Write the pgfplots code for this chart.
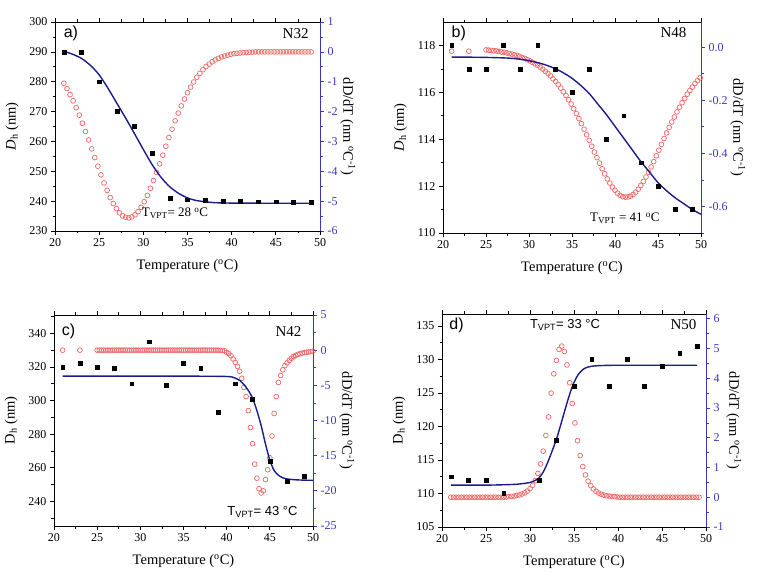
\documentclass[border=0pt]{standalone}
\usepackage{fontspec}
\setmainfont{Liberation Serif}
\newfontfamily\arial{Liberation Sans}
\usepackage{pgfplots}
\pgfplotsset{compat=1.18}

\definecolor{curveblue}{HTML}{1B1B8C}
\definecolor{axblue}{HTML}{3A3AB8}
\definecolor{circred}{HTML}{F26B6B}

\tikzset{
  tagst/.style={font=\arial\fontsize{16}{16}\selectfont},
  nlab/.style={font=\fontsize{15}{15}\selectfont},
}

\pgfplotsset{
  panel/.style={scale only axis, anchor=south west,
    xmin=20, xmax=50, xtick={20,25,...,50},
    minor x tick num=1, minor y tick num=1,
    tick align=outside, major tick length=4pt, minor tick length=2.5pt,
    font=\fontsize{12}{13}\selectfont,
    /pgf/number format/assume math mode=true,
    label style={font=\fontsize{14.5}{15}\selectfont},
    axis line style={line width=0.8pt}, every tick/.style={line width=0.7pt},
    clip=false},
  leftax/.style={panel, axis y line*=left,
    xlabel={Temperature (\textsuperscript{o}C)},
    xlabel style={yshift=-6pt}, ylabel style={yshift=4pt}},
  rightax/.style={panel, axis y line*=right, axis x line=none,
    y axis line style={axblue, line width=0.8pt},
    ytick style={axblue, line width=0.7pt},
    yticklabel style={text=axblue},
    ylabel={dD/dT (nm \textsuperscript{o}C\textsuperscript{-1})},
    ylabel style={rotate=180, yshift=-4pt}},
  sq/.style={only marks, mark=square*, mark size=1.9pt, black},
  fit/.style={curveblue, line width=1.4pt, smooth, no marks},
  der/.style={only marks, mark=o, mark size=2.4pt, circred,
    mark options={line width=0.75pt}},
}

\begin{document}
\begin{tikzpicture}
\path[use as bounding box] (0pt,0pt) rectangle (765pt,579pt);

% ---------------- a) N32 ----------------
\begin{axis}[rightax, at={(55pt,348pt)}, width=265pt, height=209pt,
  ymin=-6, ymax=1, ytick={-6,...,1}]
\addplot[der] coordinates {
(21.00,-1.05) (21.35,-1.23) (21.70,-1.43) (22.05,-1.64) (22.40,-1.87)
(22.75,-2.12) (23.10,-2.39) (23.45,-2.67) (23.80,-2.95) (24.15,-3.25)
(24.50,-3.54) (24.85,-3.83) (25.20,-4.12) (25.55,-4.39) (25.90,-4.64)
(26.25,-4.88) (26.60,-5.08) (26.95,-5.25) (27.30,-5.39) (27.65,-5.49)
(28.00,-5.54) (28.35,-5.56) (28.70,-5.53) (29.05,-5.46) (29.40,-5.35)
(29.75,-5.21) (30.10,-5.02) (30.45,-4.81) (30.80,-4.57) (31.15,-4.31)
(31.50,-4.04) (31.85,-3.75) (32.20,-3.46) (32.55,-3.16) (32.90,-2.87)
(33.25,-2.59) (33.60,-2.31) (33.95,-2.05) (34.30,-1.81) (34.65,-1.58)
(35.00,-1.37) (35.35,-1.18) (35.70,-1.01) (36.05,-0.85) (36.40,-0.72)
(36.75,-0.60) (37.10,-0.49) (37.45,-0.41) (37.80,-0.33) (38.15,-0.27)
(38.50,-0.22) (38.85,-0.17) (39.20,-0.14) (39.55,-0.11) (39.90,-0.08)
(40.25,-0.06) (40.60,-0.05) (40.95,-0.04) (41.30,-0.03) (41.65,-0.02)
(42.00,-0.01) (42.35,-0.01) (42.70,0) (43.05,0) (43.40,0) (43.75,0)
(44.10,0) (44.45,0) (44.80,0) (45.15,0) (45.50,0) (45.85,0) (46.20,0)
(46.55,0) (46.90,0) (47.25,0) (47.60,0) (47.95,0) (48.30,0) (48.65,0) (49.00,0)
};
\end{axis}
\begin{axis}[leftax, at={(55pt,348pt)}, width=265pt, height=209pt,
  ymin=230, ymax=300, ytick={230,240,...,300},
  ylabel={\textit{D}\textsubscript{h} (nm)}]
\addplot[fit] coordinates {
(21,290.2) (22,289.2) (23,287.8) (24,285.5) (25,282.3) (26,277.8) (27,272.8)
(28,267.8) (29,262.6) (30,257.3) (31,252.2) (32,248) (33,244.8) (34,242.6)
(35,241.1) (36,240.2) (37,239.8) (38,239.5) (40,239.35) (45,239.3) (49,239.3)
};
\addplot[sq] coordinates {
(21,290) (23,290) (25,280) (27,270) (29,265) (31,256) (33,241) (35,240.5)
(37,240.2) (39,240) (41,240) (43,239.8) (45,239.8) (47,239.7) (49,239.7)
};
\node[anchor=west, tagst] at (rel axis cs:0.02,0.945) {a)};
\node[anchor=east, nlab] at (rel axis cs:0.97,0.945) {N32};
\node[font=\fontsize{13}{13}\selectfont] at (rel axis cs:0.453,0.085) {T\textsubscript{VPT}= 28 \textsuperscript{o}C};
\end{axis}

% ---------------- b) N48 ----------------
\begin{axis}[rightax, at={(443pt,346pt)}, width=258pt, height=211pt,
  ymin=-0.7, ymax=0.095, ytick={-0.6,-0.4,-0.2,0},
  minor ytick={-0.7,-0.5,-0.3,-0.1}, minor y tick num=0,
  yticklabel style={/pgf/number format/.cd, fixed, fixed zerofill, precision=1}]
\addplot[der] coordinates {
(21,-0.015) (23,-0.015)
(25.0,-0.010) (25.3,-0.011) (25.6,-0.012) (25.9,-0.013) (26.2,-0.014)
(26.5,-0.016) (26.8,-0.018) (27.1,-0.019) (27.4,-0.021) (27.7,-0.024)
(28.0,-0.026) (28.3,-0.029) (28.6,-0.031) (28.9,-0.034) (29.2,-0.039)
(29.5,-0.042) (29.8,-0.047) (30.1,-0.051) (30.4,-0.057) (30.7,-0.063)
(31.0,-0.068) (31.3,-0.075) (31.6,-0.083) (31.9,-0.091) (32.2,-0.099)
(32.5,-0.108) (32.8,-0.119) (33.1,-0.129) (33.4,-0.141) (33.7,-0.154)
(34.0,-0.168) (34.3,-0.182) (34.6,-0.198) (34.9,-0.214) (35.2,-0.232)
(35.5,-0.250) (35.8,-0.269) (36.1,-0.288) (36.4,-0.309) (36.7,-0.330)
(37.0,-0.351) (37.3,-0.373) (37.6,-0.395) (37.9,-0.416) (38.2,-0.437)
(38.5,-0.458) (38.8,-0.477) (39.1,-0.496) (39.4,-0.512) (39.7,-0.527)
(40.0,-0.539) (40.3,-0.550) (40.6,-0.558) (40.9,-0.563) (41.2,-0.565)
(41.5,-0.564) (41.8,-0.561) (42.1,-0.555) (42.4,-0.546) (42.7,-0.535)
(43.0,-0.521) (43.3,-0.506) (43.6,-0.489) (43.9,-0.471) (44.2,-0.451)
(44.5,-0.431) (44.8,-0.409) (45.1,-0.388) (45.4,-0.366) (45.7,-0.344)
(46.0,-0.323) (46.3,-0.302) (46.6,-0.282) (46.9,-0.263) (47.2,-0.244)
(47.5,-0.226) (47.8,-0.209) (48.1,-0.193) (48.4,-0.177) (48.7,-0.163)
(49.0,-0.150) (49.3,-0.137) (49.6,-0.126) (49.9,-0.115)
};
\end{axis}
\begin{axis}[leftax, at={(443pt,346pt)}, width=258pt, height=211pt,
  ymin=110, ymax=119, ytick={110,112,...,118},
  ylabel={\textit{D}\textsubscript{h} (nm)}]
\addplot[fit] coordinates {
(21,117.5) (23,117.5) (25,117.49) (27,117.47) (28,117.45) (29,117.41)
(30,117.35) (31,117.27) (32,117.16) (33,117.02) (34,116.83) (35,116.6)
(36,116.3) (37,115.95) (38,115.5) (39,115.05) (40,114.55) (41,114.05)
(42,113.55) (43,113.05) (44,112.6) (45,112.15) (46,111.8) (47,111.5)
(48,111.25) (49,111.0) (50,110.8)
};
\addplot[sq] coordinates {
(21,118) (23,117) (25,117) (27,118) (29,117) (31,118) (33,117) (35,116)
(37,117) (39,114) (41,115) (43,113) (45,112) (47,111) (49,111)
};
\node[anchor=west, tagst] at (rel axis cs:0.02,0.948) {b)};
\node[anchor=east, nlab] at (rel axis cs:0.957,0.948) {N48};
\node[font=\fontsize{13}{13}\selectfont] at (rel axis cs:0.705,0.071) {T\textsubscript{VPT} = 41 \textsuperscript{o}C};
\end{axis}

% ---------------- c) N42 ----------------
\begin{axis}[rightax, at={(54pt,53pt)}, width=259pt, height=211pt,
  ymin=-25, ymax=5, ytick={-25,-20,...,5}]
\addplot[der] coordinates {
(21,0) (23,0)
(25.00,0) (25.25,0) (25.50,0) (25.75,0) (26.00,0) (26.25,0) (26.50,0) (26.75,0)
(27.00,0) (27.25,0) (27.50,0) (27.75,0) (28.00,0) (28.25,0) (28.50,0) (28.75,0)
(29.00,0) (29.25,0) (29.50,0) (29.75,0) (30.00,0) (30.25,0) (30.50,0) (30.75,0)
(31.00,0) (31.25,0) (31.50,0) (31.75,0) (32.00,0) (32.25,0) (32.50,0) (32.75,0)
(33.00,0) (33.25,0) (33.50,0) (33.75,0) (34.00,0) (34.25,0) (34.50,0) (34.75,0)
(35.00,0) (35.25,0) (35.50,0) (35.75,0) (36.00,0) (36.25,0) (36.50,0) (36.75,0)
(37.00,0) (37.25,0) (37.50,0) (37.75,0) (38.00,0) (38.25,0) (38.50,0) (38.75,0)
(39.00,0) (39.25,-0.02) (39.50,-0.05) (39.75,-0.1) (40.00,-0.3) (40.25,-0.5)
(40.50,-0.8) (40.75,-1.25) (41.00,-1.75) (41.25,-2.3) (41.50,-3.0) (41.75,-4.0)
(42.00,-5.3) (42.25,-6.6) (42.50,-8.6) (42.75,-11.0) (43.00,-13.3) (43.25,-16.2)
(43.50,-18.2) (43.75,-19.7) (44.00,-20.3) (44.25,-20.0) (44.50,-18.4) (44.75,-17.0)
(45.00,-15.3) (45.25,-12.2) (45.50,-9.0) (45.75,-6.6) (46.00,-4.6) (46.25,-3.6)
(46.50,-2.8) (46.75,-2.2) (47.00,-1.8) (47.25,-1.45) (47.50,-1.15) (47.75,-0.9)
(48.00,-0.75) (48.25,-0.6) (48.50,-0.5) (48.75,-0.42) (49.00,-0.35) (49.25,-0.3)
(49.50,-0.25) (49.75,-0.2) (50.00,-0.15)
};
\end{axis}
\begin{axis}[leftax, at={(54pt,53pt)}, width=259pt, height=211pt,
  ymin=225.3, ymax=350.9, ytick={240,260,...,340},
  minor ytick={230,250,...,350}, minor y tick num=0,
  ylabel={D\textsubscript{h} (nm)}]
\addplot[fit] coordinates {
(21,314.5) (25,314.5) (30,314.5) (35,314.5) (40,314.3) (41,313.3) (41.5,312)
(42,309.5) (42.5,306) (43,301.5) (43.5,294) (44,285) (44.5,274) (45,264.5)
(45.5,258.3) (46,255.5) (46.5,254) (47,253.3) (48,252.8) (49,252.6) (50,252.5)
};
\addplot[sq] coordinates {
(21,320) (23,322) (25,320) (27,319) (29,310) (31,335) (33,309) (35,322)
(37,319) (39,293) (41,310) (43,301) (45,264) (47,252) (49,255)
};
\node[anchor=west, tagst] at (rel axis cs:0.017,0.921) {c)};
\node[anchor=east, nlab] at (rel axis cs:0.969,0.921) {N42};
\node[font=\arial\fontsize{13}{13}\selectfont] at (rel axis cs:0.805,0.068) {T\textsubscript{VPT}= 43 °C};
\end{axis}

% ---------------- d) N50 ----------------
\begin{axis}[rightax, at={(442pt,52pt)}, width=264pt, height=213pt,
  ymin=-1, ymax=6.16, ytick={-1,...,6}]
\addplot[der] coordinates {
(21.0,0) (21.3,0) (21.6,0) (21.9,0) (22.2,0) (22.5,0) (22.8,0) (23.1,0)
(23.4,0) (23.7,0) (24.0,0) (24.3,0) (24.6,0) (24.9,0) (25.2,0) (25.5,0)
(25.8,0) (26.1,0) (26.4,0) (26.7,0) (27.0,0) (27.3,0.01) (27.6,0.02)
(27.9,0.03) (28.2,0.04) (28.5,0.06) (28.8,0.08) (29.1,0.11) (29.4,0.15)
(29.7,0.21) (30.0,0.29) (30.3,0.40) (30.6,0.56) (30.9,0.80) (31.2,1.12)
(31.5,1.55) (31.8,2.08) (32.1,2.70) (32.4,3.50) (32.7,4.15) (33.0,4.60)
(33.3,4.97) (33.6,5.08) (33.9,4.90) (34.2,4.45) (34.5,3.85) (34.8,3.15)
(35.1,2.50) (35.4,1.90) (35.7,1.40) (36.0,1.03) (36.3,0.75) (36.6,0.54)
(36.9,0.39) (37.2,0.28) (37.5,0.20) (37.8,0.14) (38.1,0.10) (38.4,0.07)
(38.7,0.05) (39.0,0.04) (39.3,0.03) (39.6,0.02) (39.9,0.01) (40.2,0)
(40.5,0) (40.8,0) (41.1,0) (41.4,0) (41.7,0) (42.0,0) (42.3,0) (42.6,0)
(42.9,0) (43.2,0) (43.5,0) (43.8,0) (44.1,0) (44.4,0) (44.7,0) (45.0,0)
(45.3,0) (45.6,0) (45.9,0) (46.2,0) (46.5,0) (46.8,0) (47.1,0) (47.4,0)
(47.7,0) (48.0,0) (48.3,0) (48.6,0) (48.9,0) (49.2,0)
};
\end{axis}
\begin{axis}[leftax, at={(442pt,52pt)}, width=264pt, height=213pt,
  ymin=105, ymax=136.8, ytick={105,110,...,135},
  ylabel={D\textsubscript{h} (nm)}]
\addplot[fit] coordinates {
(21,111.25) (25,111.25) (28,111.35) (29,111.45) (30,111.65) (30.5,111.9)
(31,112.3) (31.5,113.2) (32,114.6) (32.5,116.3) (33,118.1) (33.5,120.3)
(34,122.6) (34.5,124.8) (35,126.6) (35.5,127.8) (36,128.5) (36.5,128.85)
(37,129.0) (38,129.1) (40,129.15) (45,129.15) (49,129.15)
};
\addplot[sq] coordinates {
(21,112.5) (23,112) (25,112) (27,110) (31,112) (33,118) (35,126) (37,130)
(39,126) (41,130) (43,126) (45,129) (47,131) (49,132)
};
\node[anchor=west, tagst] at (rel axis cs:0.015,0.948) {d)};
\node[anchor=east, nlab] at (rel axis cs:0.977,0.948) {N50};
\node[font=\arial\fontsize{13}{13}\selectfont] at (rel axis cs:0.466,0.948) {T\textsubscript{VPT}= 33 °C};
\end{axis}
\end{tikzpicture}
\end{document}
